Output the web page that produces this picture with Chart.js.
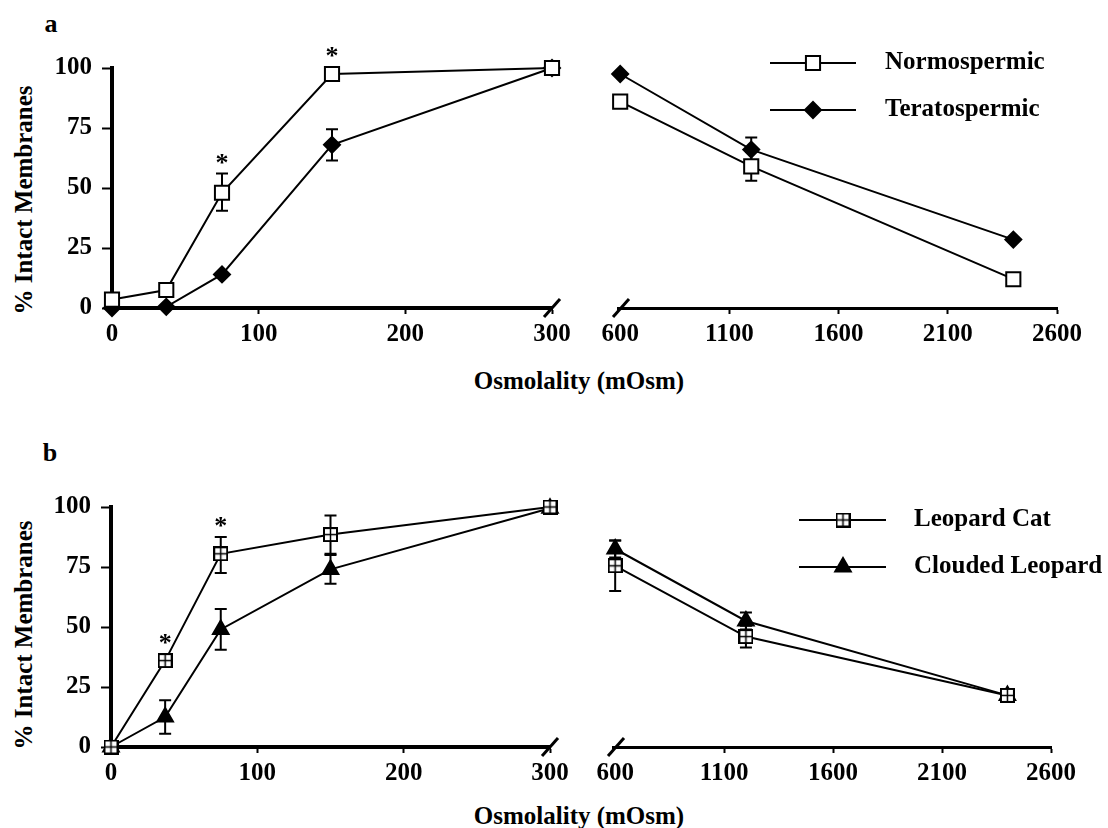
<!DOCTYPE html>
<html>
<head>
<meta charset="utf-8">
<script src="https://cdn.jsdelivr.net/npm/chart.js@4.4.0/dist/chart.umd.min.js"></script>
<style>
  body { margin: 0; background: #fff; width: 1108px; height: 828px; position: relative; overflow: hidden;
         font-family: "Liberation Serif", "Times New Roman", serif; color: #000; }
  canvas { position: absolute; }
  .lbl { position: absolute; font-weight: bold; white-space: nowrap; line-height: 1; transform: translate(-50%, -50%); }
  .ylab { transform: translate(-50%, -50%) rotate(-90deg); }
</style>
</head>
<body>
<div class="lbl" style="left:51px;top:24px;font-size:26px">a</div>
<div class="lbl" style="left:50px;top:453px;font-size:26px">b</div>
<div class="lbl ylab" style="left:23px;top:200px;font-size:25px">% Intact Membranes</div>
<div class="lbl ylab" style="left:23px;top:635px;font-size:25px">% Intact Membranes</div>
<div class="lbl" style="left:579px;top:380px;font-size:25px">Osmolality (mOsm)</div>
<div class="lbl" style="left:579px;top:815px;font-size:25px">Osmolality (mOsm)</div>

<canvas id="aLow" width="590" height="330" style="left:0;top:40px"></canvas>
<canvas id="aHigh" width="518" height="330" style="left:590px;top:40px"></canvas>
<canvas id="bLow" width="590" height="330" style="left:0;top:470px"></canvas>
<canvas id="bHigh" width="518" height="330" style="left:590px;top:470px"></canvas>

<script>
// ---- data ----
const osmLow = [0, 37, 75, 150, 300];
const osmHigh = [600, 1200, 2400];
const lowTicks = [0, 100, 200, 300];
const highTicks = [600, 1100, 1600, 2100, 2600];
const pctTicks = [0, 25, 50, 75, 100];

// panel a
const normoLow = [3.5, 7.5, 48, 97.5, 100];
const normoLowErrLo = [null, null, 40.5, null, null];
const normoLowErrHi = [null, null, 56, null, null];
const teratoLow = [0, 0.5, 14, 68, 100];
const teratoLowErrLo = [null, null, null, 61.5, null];
const teratoLowErrHi = [null, null, null, 74.5, null];
const normoHigh = [86, 59, 12];
const normoHighErrLo = [null, 53, null];
const normoHighErrHi = [null, 65, null];
const teratoHigh = [97.5, 66, 28.5];
const teratoHighErrLo = [null, 60, null];
const teratoHighErrHi = [null, 71, null];
const sigA = [false, false, true, true, false];

// panel b
const leopardLow = [0, 36, 80.5, 88.5, 100];
const leopardLowErrLo = [null, null, 72.5, 80.5, null];
const leopardLowErrHi = [null, null, 87.5, 96.5, null];
const cloudedLow = [0, 12.5, 49, 74, 99.5];
const cloudedLowErrLo = [null, 5.5, 40.5, 68, null];
const cloudedLowErrHi = [null, 19.5, 57.5, 80, null];
const leopardHigh = [75.5, 46, 21.5];
const leopardHighErrLo = [65, 41.5, null];
const leopardHighErrHi = [86, 50.5, null];
const cloudedHigh = [82.5, 52.5, 21.5];
const cloudedHighErrLo = [79, 49, null];
const cloudedHighErrHi = [86, 56, null];
const sigB = [false, true, true, false, false];

// ---- marker styles ----
const crossBox = document.createElement('canvas');
crossBox.width = 15; crossBox.height = 15;
(function () {
  const c = crossBox.getContext('2d');
  c.fillStyle = '#fff'; c.fillRect(1, 1, 13, 13);
  c.strokeStyle = '#000'; c.lineWidth = 2; c.strokeRect(1, 1, 13, 13);
  c.lineWidth = 1.5;
  c.beginPath(); c.moveTo(7.5, 1); c.lineTo(7.5, 14); c.moveTo(1, 7.5); c.lineTo(14, 7.5); c.stroke();
})();

const styles = {
  normo:   { pointStyle: 'rect', radius: 10, fill: '#fff' },
  terato:  { pointStyle: 'rectRot', radius: 8, fill: '#000' },
  leopard: { pointStyle: crossBox, radius: 8, fill: '#fff' },
  clouded: { pointStyle: 'triangle', radius: 9, fill: '#000' }
};

function series(label, xs, ys, lo, hi, st) {
  return {
    label: label,
    data: xs.map((x, i) => ({ x: x, y: ys[i] })),
    errLo: lo, errHi: hi,
    borderColor: '#000', borderWidth: 2, tension: 0, clip: false,
    pointStyle: st.pointStyle, pointRadius: st.radius,
    pointBackgroundColor: st.fill, pointBorderColor: '#000', pointBorderWidth: 2,
    markerStyle: st
  };
}

const FONT = { family: '"Liberation Serif", "Times New Roman", serif', size: 25, weight: 'bold' };
Chart.defaults.font.family = FONT.family;

// error bars, drawn under the markers
const errorBars = {
  id: 'errorBars',
  beforeDatasetsDraw(chart) {
    const ctx = chart.ctx, xs = chart.scales.x, ys = chart.scales.y;
    ctx.save();
    ctx.strokeStyle = '#000'; ctx.lineWidth = 2;
    chart.data.datasets.forEach(ds => {
      ds.data.forEach((p, i) => {
        const lo = ds.errLo[i], hi = ds.errHi[i];
        if (lo == null || hi == null) return;
        const px = xs.getPixelForValue(p.x);
        const yl = ys.getPixelForValue(lo), yh = ys.getPixelForValue(hi);
        ctx.beginPath();
        ctx.moveTo(px, yl); ctx.lineTo(px, yh);
        ctx.moveTo(px - 6, yl); ctx.lineTo(px + 6, yl);
        ctx.moveTo(px - 6, yh); ctx.lineTo(px + 6, yh);
        ctx.stroke();
      });
    });
    ctx.restore();
  }
};

function breakMark(side) {
  return {
    id: 'breakMark',
    afterDraw(chart) {
      const ctx = chart.ctx, a = chart.chartArea;
      const x = side === 'end' ? a.right : a.left + 3;
      const y = a.bottom;
      ctx.save();
      ctx.strokeStyle = '#000'; ctx.lineWidth = 3;
      ctx.beginPath(); ctx.moveTo(x - 8, y + 9); ctx.lineTo(x + 8, y - 9); ctx.stroke();
      ctx.restore();
    }
  };
}

function stars(sig, xsVals) {
  return {
    id: 'stars',
    afterDatasetsDraw(chart) {
      const ctx = chart.ctx, xs = chart.scales.x, ys = chart.scales.y;
      ctx.save();
      ctx.fillStyle = '#000';
      ctx.font = 'bold 26px ' + FONT.family;
      ctx.textAlign = 'center'; ctx.textBaseline = 'alphabetic';
      sig.forEach((s, i) => {
        if (!s) return;
        let top = Infinity;
        chart.data.datasets.forEach(ds => {
          const hi = ds.errHi[i];
          const v = hi != null ? ys.getPixelForValue(hi) : ys.getPixelForValue(ds.data[i].y) - 7;
          top = Math.min(top, v);
        });
        ctx.fillText('*', xs.getPixelForValue(xsVals[i]), top - 3);
      });
      ctx.restore();
    }
  };
}

// legend: line sample with marker, then label (page coords)
function key(offX, offY, x0, x1, xm, xt, rows) {
  return {
    id: 'key',
    afterDraw(chart) {
      const ctx = chart.ctx;
      ctx.save();
      chart.data.datasets.forEach((ds, i) => {
        const y = rows[i] - offY;
        ctx.strokeStyle = '#000'; ctx.lineWidth = 2;
        ctx.beginPath(); ctx.moveTo(x0 - offX, y); ctx.lineTo(x1 - offX, y); ctx.stroke();
        const st = ds.markerStyle;
        ctx.fillStyle = st.fill; ctx.strokeStyle = '#000'; ctx.lineWidth = 2;
        Chart.helpers.drawPoint(ctx, { pointStyle: st.pointStyle, radius: st.radius, rotation: 0, borderWidth: 2 }, xm - offX, y);
        ctx.fillStyle = '#000';
        ctx.font = 'bold 25px ' + FONT.family;
        ctx.textAlign = 'left'; ctx.textBaseline = 'middle';
        ctx.fillText(ds.label, xt - offX, y);
      });
      ctx.restore();
    }
  };
}

function makeChart(id, cfg) {
  return new Chart(document.getElementById(id), {
    type: 'line',
    data: { datasets: cfg.datasets },
    options: {
      responsive: false,
      animation: false,
      layout: { padding: cfg.padding },
      plugins: { legend: { display: false }, tooltip: { enabled: false } },
      scales: {
        x: {
          type: 'linear', min: cfg.xMin, max: cfg.xMax,
          afterBuildTicks: s => { s.ticks = cfg.xTicks.map(v => ({ value: v })); },
          ticks: { color: '#000', font: FONT, padding: 6, maxRotation: 0, autoSkip: false,
                   callback: v => String(v) },
          grid: { drawOnChartArea: false, drawTicks: true, tickLength: 6, tickWidth: 2,
                  tickColor: c => (c.tick && c.tick.value === cfg.noTickAt) ? 'rgba(0,0,0,0)' : '#000' },
          border: { display: true, color: '#000', width: cfg.xBorder },
          afterFit: s => { s.height = cfg.xHeight; }
        },
        y: {
          display: cfg.showY, min: 0, max: 100,
          afterBuildTicks: s => { s.ticks = pctTicks.map(v => ({ value: v })); },
          ticks: { color: '#000', font: FONT, padding: 10, callback: v => String(v) },
          grid: { drawOnChartArea: false, drawTicks: true, tickLength: 10, tickColor: '#000', tickWidth: 2 },
          border: { display: true, color: '#000', width: 4 },
          afterFit: s => { s.width = cfg.showY ? cfg.yWidth : 0; }
        }
      }
    },
    plugins: cfg.plugins
  });
}

// ---- panel a ----
makeChart('aLow', {
  datasets: [
    series('Normospermic', osmLow, normoLow, normoLowErrLo, normoLowErrHi, styles.normo),
    series('Teratospermic', osmLow, teratoLow, teratoLowErrLo, teratoLowErrHi, styles.terato)
  ],
  padding: { left: 0, top: 28, right: 38, bottom: 0 },
  xMin: 0, xMax: 300, xTicks: lowTicks, xBorder: 4, xHeight: 62,
  showY: true, yWidth: 112,
  plugins: [errorBars, breakMark('end'), stars(sigA, osmLow)]
});

makeChart('aHigh', {
  datasets: [
    series('Normospermic', osmHigh, normoHigh, normoHighErrLo, normoHighErrHi, styles.normo),
    series('Teratospermic', osmHigh, teratoHigh, teratoHighErrLo, teratoHighErrHi, styles.terato)
  ],
  padding: { left: 28, top: 28, right: 51, bottom: 0 },
  xMin: 590, xMax: 2600, xTicks: highTicks, xBorder: 3, xHeight: 62, noTickAt: 600,
  showY: false,
  plugins: [errorBars, breakMark('start'), key(590, 40, 770, 856, 813, 885, [63, 110])]
});

// ---- panel b ----
makeChart('bLow', {
  datasets: [
    series('Leopard Cat', osmLow, leopardLow, leopardLowErrLo, leopardLowErrHi, styles.leopard),
    series('Clouded Leopard', osmLow, cloudedLow, cloudedLowErrLo, cloudedLowErrHi, styles.clouded)
  ],
  padding: { left: 0, top: 37, right: 40, bottom: 0 },
  xMin: 0, xMax: 300, xTicks: lowTicks, xBorder: 4, xHeight: 53,
  showY: true, yWidth: 111,
  plugins: [errorBars, breakMark('end'), stars(sigB, osmLow)]
});

makeChart('bHigh', {
  datasets: [
    series('Leopard Cat', osmHigh, leopardHigh, leopardHighErrLo, leopardHighErrHi, styles.leopard),
    series('Clouded Leopard', osmHigh, cloudedHigh, cloudedHighErrLo, cloudedHighErrHi, styles.clouded)
  ],
  padding: { left: 23, top: 37, right: 57, bottom: 0 },
  xMin: 590, xMax: 2600, xTicks: highTicks, xBorder: 3, xHeight: 53, noTickAt: 600,
  showY: false,
  plugins: [errorBars, breakMark('start'), key(590, 470, 799, 886, 843, 914, [520, 567])]
});
</script>
</body>
</html>
